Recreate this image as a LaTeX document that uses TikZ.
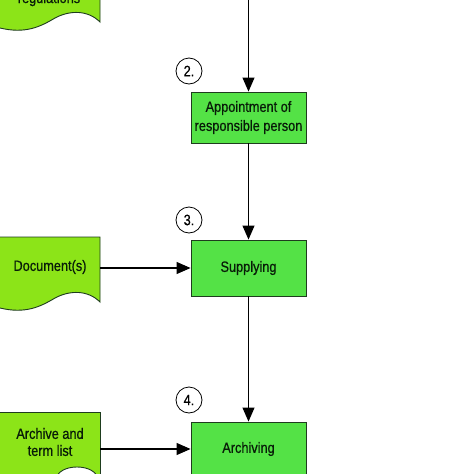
\documentclass[tikz,border=0pt]{standalone}
\usepackage{fontspec}
\setmainfont{Liberation Sans}[FakeStretch=0.85,FakeBold=0.6]
\usetikzlibrary{arrows.meta}
\definecolor{procgreen}{RGB}{84,226,70}
\definecolor{docgreen}{RGB}{140,228,24}
\definecolor{edgecol}{RGB}{30,60,30}
\definecolor{txtcol}{RGB}{8,28,8}
\tikzset{
  proc/.style={draw=edgecol, line width=0.9pt, fill=procgreen, minimum width=115pt, inner sep=0pt,
    align=center, text=txtcol, font=\fontsize{15}{19}\selectfont},
  doctext/.style={inner sep=0pt, minimum width=100pt, align=center, text=txtcol,
    font=\fontsize{15}{17}\selectfont},
  docshape/.style={draw=edgecol, line width=0.9pt, fill=docgreen},
  num/.style={circle, draw=black, line width=0.8pt, fill=white, minimum size=26pt, inner sep=0pt,
    font=\fontsize{15}{17}\selectfont},
  arr/.style={draw=black, line width=1.1pt, -{Triangle[length=14pt,width=12pt]}}
}
\begin{document}
\begin{tikzpicture}[x=1pt,y=-1pt]
\useasboundingbox (0,0) rectangle (474,474);
\clip (0,0) rectangle (474,474);
\fill[white] (0,0) rectangle (474,474);
% top document (cut off)
\path[docshape] (-10,-60) -- (100,-60) -- (100,22)
  .. controls (88,10) and (70,10) .. (55,18)
  .. controls (40,27) and (25,34) .. (0,28) -- (-10,25) -- cycle;
\node[doctext, anchor=base] (regs) at (49,3) {regulations};
% document(s)
\path[docshape] (-10,237) -- (100,237) -- (100,302)
  .. controls (88,290) and (70,290) .. (55,298)
  .. controls (40,307) and (25,314) .. (0,308) -- (-10,305) -- cycle;
\node[doctext, minimum height=60pt] (docs) at (50,267) {Document(s)};
% archive and term list
\path[docshape] (-10,412) rectangle (100,490);
\node[doctext] (arch) at (50,442) {Archive and\\term list};
\draw[edgecol, line width=0.9pt, fill=white] (77,478) ellipse (20 and 11);
% process boxes
\coordinate (topin) at (248.5,0);
\node[proc, minimum height=51pt] (appt) at (248.5,117.5) {Appointment of\\responsible person};
\node[proc, minimum height=56pt] (supp) at (248.5,268) {Supplying};
\node[proc, minimum height=54pt] (archv) at (248.5,449) {Archiving};
% step numbers
\node[num] (n2) at (189,71) {2.};
\node[num] (n3) at (189,220) {3.};
\node[num] (n4) at (189,400) {4.};
% connectors
\draw[arr] (topin) -- (appt);
\draw[arr] (appt) -- (supp);
\draw[arr] (supp) -- (archv);
\draw[arr] (docs.east |- supp) -- (supp);
\draw[arr] (100,449) -- (archv.west |- 100,449);
\end{tikzpicture}
\end{document}
